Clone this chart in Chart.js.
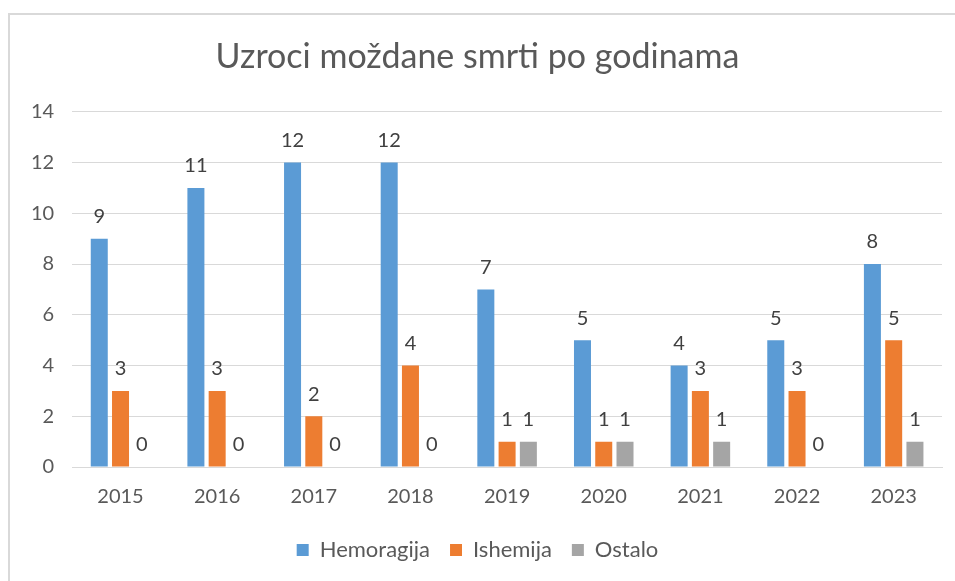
<!DOCTYPE html>
<html>
  <head>
    <meta charset="utf-8">
    <script src="https://cdn.jsdelivr.net/npm/chart.js"></script>
    <style>
      html, body { margin: 0; padding: 0; background: #fff; }
      .okvir {
        position: absolute; left: 8px; top: 13px; width: 947px; height: 568px;
        border-top: 2px solid #d9d9d9; border-left: 2px solid #d9d9d9;
        box-sizing: border-box;
      }
    </style>
  </head>
  <body>
    <div class="okvir">
      <canvas id="grafik" width="945" height="566"></canvas>
    </div>
    <script>
      // podaci
      const godine = ['2015', '2016', '2017', '2018', '2019', '2020', '2021', '2022', '2023'];
      const hemoragija = [9, 11, 12, 12, 7, 5, 4, 5, 8];
      const ishemija = [3, 3, 2, 4, 1, 1, 3, 3, 5];
      const ostalo = [0, 0, 0, 0, 1, 1, 1, 0, 1];

      const siva = '#595959';
      const font = 'Lato, "Open Sans", sans-serif';

      // brojevi iznad stubova
      const oznake = {
        id: 'oznake',
        afterDatasetsDraw(chart) {
          const ctx = chart.ctx;
          ctx.save();
          ctx.font = '20px ' + font;
          ctx.fillStyle = '#404040';
          ctx.textAlign = 'center';
          ctx.textBaseline = 'bottom';
          chart.data.datasets.forEach((ds, i) => {
            chart.getDatasetMeta(i).data.forEach((bar, j) => {
              ctx.fillText(ds.data[j], bar.x, bar.y - 12);
            });
          });
          ctx.restore();
        }
      };

      new Chart(document.getElementById('grafik'), {
        type: 'bar',
        data: {
          labels: godine,
          datasets: [
            { label: 'Hemoragija', data: hemoragija, backgroundColor: '#5b9bd5' },
            { label: 'Ishemija', data: ishemija, backgroundColor: '#ed7d31' },
            { label: 'Ostalo', data: ostalo, backgroundColor: '#a5a5a5' }
          ]
        },
        options: {
          responsive: false,
          animation: false,
          barPercentage: 0.8,
          categoryPercentage: 0.66,
          layout: { padding: { left: 3, right: 13, top: 10, bottom: 10 } },
          plugins: {
            title: {
              display: true,
              text: 'Uzroci moždane smrti po godinama',
              color: siva,
              font: { family: font, size: 34, weight: 'normal' },
              padding: { top: 12, bottom: 34 }
            },
            legend: {
              position: 'bottom',
              labels: {
                color: siva,
                font: { family: font, size: 22 },
                boxWidth: 12,
                boxHeight: 12,
                padding: 20
              }
            },
            tooltip: { enabled: false }
          },
          scales: {
            x: {
              grid: { display: false },
              border: { color: '#d9d9d9' },
              ticks: { color: siva, font: { family: font, size: 20 }, padding: 10 }
            },
            y: {
              min: 0, max: 14,
              ticks: { stepSize: 2, color: siva, font: { family: font, size: 20 }, padding: 18 },
              grid: { color: '#d9d9d9', drawTicks: false },
              border: { display: false }
            }
          }
        },
        plugins: [oznake]
      });
    </script>
  </body>
</html>
